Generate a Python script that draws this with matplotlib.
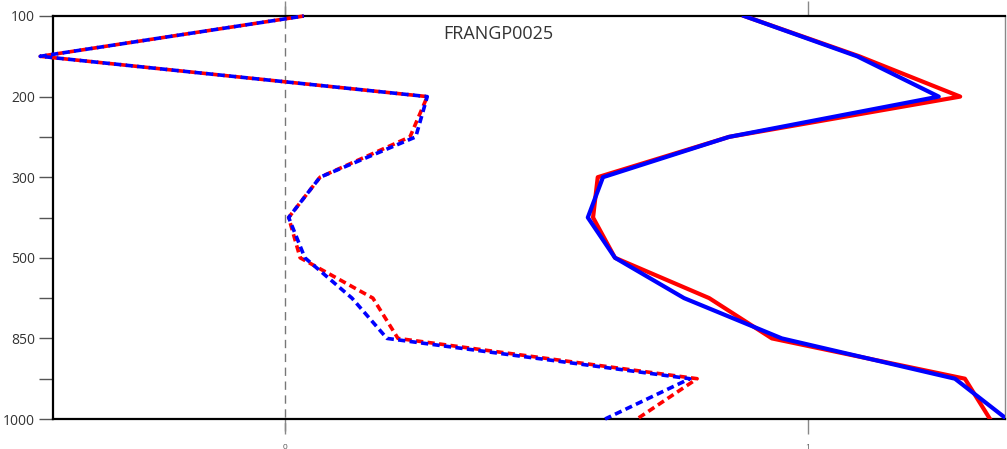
import numpy as np
import matplotlib.pyplot as plt

# pressure levels (hPa), plotted at equal spacing
levels = [100, 150, 200, 250, 300, 400, 500, 700, 850, 925, 1000]
label_levels = [100, 200, 300, 500, 850, 1000]

# dashed profiles
red_dash = [0.036, -0.468, 0.272, 0.239, 0.067, 0.007, 0.029, 0.168, 0.216, 0.788, 0.673]
blue_dash = [0.036, -0.468, 0.272, 0.250, 0.067, 0.007, 0.038, 0.128, 0.195, 0.774, 0.612]

# solid profiles
red_solid = [0.878, 1.098, 1.291, 0.849, 0.598, 0.589, 0.631, 0.811, 0.931, 1.300, 1.348]
blue_solid = [0.878, 1.094, 1.250, 0.849, 0.608, 0.579, 0.631, 0.763, 0.950, 1.281, 1.380]

station = "FRANGP0025"

fig = plt.figure(figsize=(10.07, 4.49), dpi=100)
ax = fig.add_axes([53 / 1007, 30 / 449, 952 / 1007, 403 / 449])

idx = np.arange(len(levels))

ax.axvline(0, ymin=-0.03, ymax=1.03, color="#777777", lw=1.0,
           ls=(0, (6, 4)), clip_on=False, zorder=1)

ax.plot(red_solid, idx, color="#ff0000", lw=3.0, zorder=3)
ax.plot(blue_solid, idx, color="#0000ff", lw=3.0, zorder=4)
ax.plot(red_dash, idx, color="#ff0000", lw=2.6, ls=(0, (2.0, 1.2)),
        clip_on=False, zorder=3)
ax.plot(blue_dash, idx, color="#0000ff", lw=2.6, ls=(1.6, (2.0, 1.2)),
        clip_on=False, zorder=4)

ax.set_xlim(-0.4436, 1.3767)
ax.set_ylim(len(levels) - 1, 0)

ax.set_yticks(idx)
ax.set_yticklabels([str(p) if p in label_levels else "" for p in levels],
                   family="Open Sans")
ax.set_xticks([0, 1])
ax.set_xticklabels(["0", "1"], family="Open Sans")

ax.tick_params(axis="y", direction="out", length=10, width=1.0,
               color="#555555", labelsize=10, labelcolor="#333333", pad=3)
ax.tick_params(axis="x", direction="out", length=11, width=1.0, top=True,
               color="#888888", labelsize=6, labelcolor="#555555", pad=7)

for side in ["left", "top", "bottom"]:
    ax.spines[side].set_linewidth(1.6)
    ax.spines[side].set_color("black")
ax.spines["right"].set_linewidth(1.0)
ax.spines["right"].set_color("#888888")

ax.text(0.4675, 0.955, station, transform=ax.transAxes, ha="center", va="center",
        fontsize=13, color="#333333", family="Open Sans")

fig.savefig("out.png", dpi=100)
